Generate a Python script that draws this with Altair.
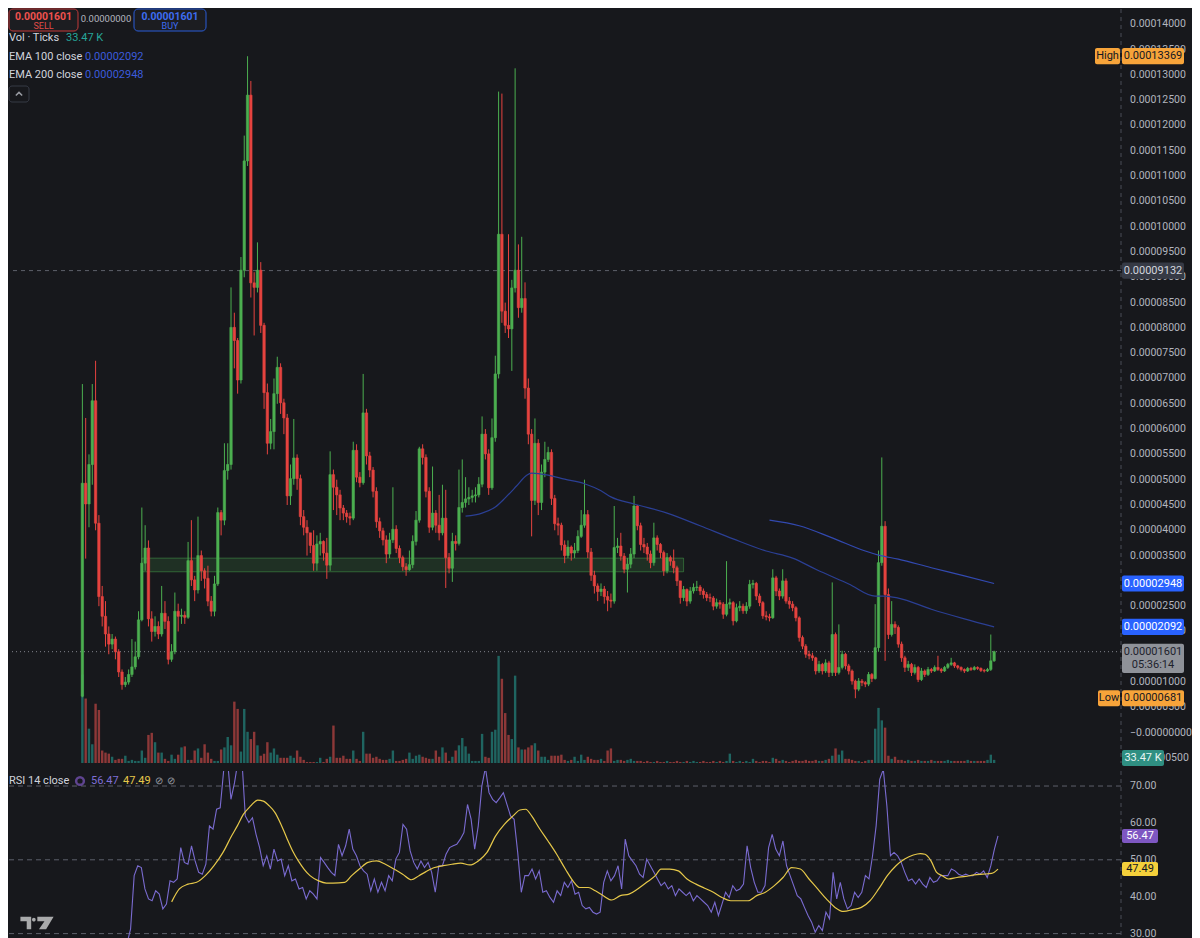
import altair as alt
import pandas as pd

FONT = "Roboto"
BG = "#17181c"
UP, DOWN = "#4caf50", "#e5433f"
VUP, VDOWN = "#26a69a", "#ef5350"

# ---------------- data (prices in units of 1e-5) ----------------
first_open = 0.72
close = [
    4.93, 4.52, 5.30, 6.56, 4.14, 2.69, 2.30, 1.95, 1.75, 1.85,
    1.60, 1.20, 0.95, 1.00, 1.15, 1.30, 1.50, 2.23, 3.35, 3.65,
    2.25, 2.00, 2.10, 1.95, 2.36, 2.20, 1.45, 1.60, 2.40, 2.30,
    2.32, 2.28, 3.40, 3.02, 2.82, 3.50, 3.20, 3.05, 2.60, 2.40,
    2.94, 4.35, 4.20, 5.18, 5.30, 8.01, 7.75, 6.97, 9.14, 11.30,
    12.60, 8.89, 8.80, 9.14, 8.05, 6.72, 5.72, 5.95, 6.70, 7.22,
    6.52, 6.22, 4.68, 5.02, 5.43, 5.02, 4.27, 4.06, 3.95, 3.70,
    3.35, 3.73, 3.78, 3.55, 3.31, 5.10, 4.85, 4.70, 4.44,
    4.34, 4.27, 4.24, 5.58, 5.05, 4.94, 6.32, 5.47, 5.19, 4.77,
    4.17, 3.99, 3.81, 3.53, 3.81, 4.02, 3.64, 3.46, 3.28, 3.22,
    3.32, 3.78, 4.20, 5.61, 5.44, 4.77, 4.06, 4.34, 4.10, 3.95,
    4.24, 3.46, 3.25, 3.78, 3.74, 4.45, 4.55, 4.62, 4.65, 4.68,
    4.70, 4.91, 5.90, 5.51, 4.84, 5.83, 7.09, 9.85, 8.33, 8.05,
    7.98, 8.79, 9.14, 8.40, 8.58, 6.81, 5.90, 4.59, 5.72, 4.55,
    5.15, 5.40, 5.54, 4.63, 4.13, 4.10, 3.71, 3.50, 3.67, 3.55,
    3.60, 3.88, 4.10, 4.31, 3.57, 3.11, 2.90, 2.79, 2.84, 2.69,
    2.62,
    2.60, 3.66, 3.69, 3.49, 3.23, 3.33, 3.53, 4.48, 4.09, 3.72,
    3.67, 3.53, 3.36, 3.85, 3.72, 3.56, 3.20, 3.46, 3.39, 3.26,
    3.00, 2.67, 2.83, 2.60, 2.80, 2.87, 2.88, 2.80, 2.73, 2.67,
    2.66, 2.50, 2.57, 2.54, 2.34, 2.54, 2.57, 2.21, 2.47, 2.50,
    2.41, 2.50, 2.93, 2.95, 2.70, 2.57, 2.31, 2.29, 2.27, 3.06,
    2.80, 2.70, 3.00, 2.60, 2.54, 2.47, 2.27, 1.88, 1.71, 1.55,
    1.52, 1.48, 1.22, 1.35, 1.22, 1.38, 1.19, 1.94, 1.19, 1.29,
    1.55, 1.32, 1.22, 1.02, 0.86, 1.02, 0.99, 0.96, 1.15, 1.07,
    1.68, 3.36, 4.08, 2.73, 1.94, 2.14, 2.08, 1.75, 1.48, 1.29,
    1.35, 1.19, 1.29, 1.05, 1.22, 1.15, 1.25, 1.22, 1.29, 1.25,
    1.22, 1.29, 1.35, 1.38, 1.32, 1.29, 1.25, 1.22, 1.27, 1.25,
    1.29, 1.27, 1.23, 1.22, 1.25, 1.42, 1.601,
]
high = [
    6.89, 6.22, 5.50, 6.89, 7.35, 4.30, 2.90, 2.60, 2.10, 1.95,
    1.90, 1.65, 1.25, 1.10, 1.25, 1.85, 1.80, 2.40, 4.45, 4.10,
    3.80, 2.40, 2.30, 2.20, 2.90, 2.60, 2.30, 1.75, 2.77, 2.55,
    2.45, 2.40, 3.77, 4.20, 3.10, 4.27, 3.60, 3.25, 3.30, 2.70,
    3.10, 4.45, 4.40, 5.72, 5.72, 8.80, 8.30, 7.80, 9.40, 11.80,
    13.369, 12.88, 9.10, 9.69, 9.30, 8.10, 6.90, 6.20, 7.00, 7.43,
    7.30, 6.60, 6.30, 5.30, 6.20, 5.50, 5.10, 4.40, 4.20, 3.90,
    4.00, 3.90, 3.95, 3.80, 3.85, 5.56, 5.20, 5.00, 4.80,
    4.50, 4.40, 4.35, 5.75, 5.70, 5.15, 7.09, 6.40, 5.55, 5.25,
    4.85, 4.25, 4.05, 3.90, 3.95, 4.85, 4.10, 3.70, 3.50, 3.35,
    3.60, 3.90, 4.38, 5.65, 5.70, 5.50, 4.85, 5.26, 4.40, 4.70,
    4.90, 4.80, 3.55, 3.95, 3.90, 5.20, 5.40, 5.05, 4.85, 4.80,
    4.85, 5.05, 6.25, 6.00, 5.60, 6.21, 7.45, 12.67, 12.63, 8.50,
    9.85, 8.95, 13.13, 9.65, 9.80, 8.90, 7.00, 6.00, 6.21, 5.80,
    5.30, 5.75, 5.65, 5.60, 4.70, 4.25, 4.15, 3.80, 3.80, 3.70,
    3.75, 4.00, 4.40, 5.00, 4.40, 3.65, 3.20, 2.95, 2.95, 2.90,
    2.80,
    2.75, 4.48, 3.85, 3.95, 3.55, 3.45, 3.65, 4.68, 4.50, 4.15,
    3.85, 3.75, 3.60, 4.15, 3.90, 3.75, 3.60, 3.55, 3.50, 3.62,
    3.30, 2.95, 2.90, 2.85, 2.88, 2.95, 3.00, 2.92, 2.85, 2.78,
    2.75, 2.70, 2.65, 2.62, 2.58, 3.39, 2.65, 2.60, 2.55, 2.60,
    2.55, 2.58, 3.02, 3.02, 2.98, 2.75, 2.60, 2.40, 2.35, 3.23,
    3.10, 2.85, 3.23, 3.05, 2.68, 2.60, 2.50, 2.30, 1.92, 1.75,
    1.62, 1.58, 1.50, 1.42, 1.38, 1.45, 1.42, 2.97, 1.98, 2.14,
    1.62, 1.58, 1.36, 1.25, 1.05, 1.08, 1.06, 1.02, 1.20, 1.18,
    2.54, 3.60, 5.44, 4.18, 2.85, 2.60, 2.20, 2.12, 1.80, 1.52,
    1.42, 1.38, 1.35, 1.32, 1.28, 1.25, 1.30, 1.28, 1.33, 1.52,
    1.28, 1.32, 1.38, 1.48, 1.40, 1.34, 1.31, 1.27, 1.30, 1.30,
    1.32, 1.31, 1.29, 1.26, 1.28, 1.94, 1.62,
]
low = [
    0.70, 3.44, 4.06, 4.90, 4.00, 2.50, 2.10, 1.70, 1.55, 1.65,
    1.45, 1.10, 0.85, 0.90, 0.95, 1.10, 1.25, 1.45, 2.20, 3.20,
    2.10, 1.80, 1.90, 1.85, 1.90, 2.05, 1.35, 1.40, 1.55, 2.00,
    2.15, 2.15, 2.25, 2.90, 2.60, 2.75, 3.00, 2.85, 2.50, 2.30,
    2.30, 2.90, 3.90, 4.10, 5.00, 5.20, 7.20, 6.70, 6.90, 9.00,
    11.20, 8.60, 7.85, 8.70, 7.90, 6.40, 5.50, 5.60, 5.60, 6.50,
    6.30, 5.90, 4.50, 4.50, 4.90, 4.80, 4.10, 3.90, 3.50, 3.55,
    3.20, 3.20, 3.50, 3.40, 3.04, 3.20, 4.40, 4.30, 4.20,
    4.20, 4.15, 4.10, 4.20, 4.95, 4.85, 4.90, 5.30, 5.05, 4.65,
    4.05, 3.85, 3.70, 3.35, 3.45, 3.75, 3.55, 3.35, 3.20, 3.10,
    3.20, 3.25, 3.70, 4.15, 5.30, 4.65, 3.95, 4.00, 3.95, 3.80,
    3.90, 2.86, 3.15, 2.98, 3.60, 3.70, 4.35, 4.45, 4.50, 4.55,
    4.55, 4.65, 4.85, 5.40, 4.70, 4.80, 5.75, 7.00, 8.10, 7.90,
    7.80, 7.15, 8.70, 8.20, 8.30, 6.60, 5.70, 3.88, 4.50, 4.30,
    4.40, 5.05, 5.35, 4.50, 4.00, 3.90, 3.60, 3.35, 3.45, 3.40,
    3.45, 3.55, 3.85, 4.05, 3.45, 3.00, 2.75, 2.60, 2.70, 2.55,
    2.40,
    2.47, 2.55, 3.55, 3.40, 3.15, 2.77, 3.25, 3.45, 4.00, 3.60,
    3.55, 3.40, 3.25, 3.30, 3.60, 3.45, 3.10, 3.15, 3.30, 3.15,
    2.90, 2.55, 2.60, 2.50, 2.55, 2.75, 2.80, 2.72, 2.65, 2.60,
    2.58, 2.42, 2.45, 2.45, 2.25, 2.30, 2.45, 2.12, 2.18, 2.40,
    2.35, 2.35, 2.45, 2.85, 2.62, 2.50, 2.25, 2.22, 2.20, 2.25,
    2.70, 2.62, 2.65, 2.55, 2.45, 2.40, 2.20, 1.80, 1.65, 1.48,
    1.45, 1.42, 1.15, 1.18, 1.15, 1.18, 1.10, 1.12, 1.12, 1.15,
    1.25, 1.25, 1.15, 0.95, 0.681, 0.82, 0.92, 0.90, 0.92, 1.00,
    1.05, 1.60, 3.30, 1.42, 1.85, 1.90, 1.95, 1.68, 1.40, 1.20,
    1.22, 1.12, 1.15, 1.00, 1.02, 1.10, 1.12, 1.18, 1.20, 1.22,
    1.18, 1.20, 1.26, 1.32, 1.28, 1.25, 1.21, 1.18, 1.20, 1.22,
    1.23, 1.24, 1.20, 1.19, 1.20, 1.22, 1.40,
]
# volume (relative bar heights)
volume = [
    85, 62, 33, 18, 57, 51, 12, 10, 9, 6,
    3, 4, 4, 7, 2, 3, 2, 2, 12, 5,
    27, 29, 20, 10, 10, 4, 2, 8, 4, 8,
    15, 16, 3, 3, 12, 14, 5, 18, 10, 4,
    2, 2, 13, 15, 25, 17, 59, 52, 11, 52,
    30, 23, 30, 17, 7, 9, 20, 10, 14, 8,
    5, 5, 5, 7, 5, 12, 6, 3, 1, 1,
    1, 1, 5, 1, 4, 6, 36, 5, 5, 7,
    4, 4, 12, 4, 2, 30, 9, 9, 5, 6,
    4, 3, 3, 4, 12, 2, 2, 3, 4, 10,
    4, 7, 8, 6, 5, 4, 4, 12, 6, 15,
    10, 2, 6, 12, 17, 24, 16, 9,
    2, 2, 2, 28, 6, 5, 30, 32, 103, 81,
    48, 27, 23, 84, 15, 13, 13, 15, 17, 19,
    12, 6, 6, 3, 7, 7, 7, 8, 3, 2,
    3, 6, 2, 8, 3, 6, 4, 3, 3, 4,
    2, 12, 14, 2, 3, 3, 2, 3, 4, 2,
    2, 2, 1, 2, 1, 1, 2, 1, 1, 2,
    1, 1, 2, 1, 1, 2, 1, 2, 1, 1,
    2, 1, 1, 2, 1, 2, 1, 2,
    9,
    2, 1, 2, 1, 2, 1,
    4,
    2, 1, 2, 2, 1,
    5, 4,
    2, 3, 2, 1, 2, 3, 2, 2, 3, 2, 2, 3, 2, 2, 3,
    4, 7, 14, 8, 12, 4, 4, 3,
    2, 2, 1, 2, 3,
    3, 33, 53, 41, 34, 7, 4, 6, 3,
    3, 2, 3, 2, 2, 3, 2, 2, 2, 3, 2, 2, 2, 2, 3, 2, 2, 2, 2, 2, 3, 2, 2, 2, 2, 2, 3,
    8, 3,
]
ema100_bar = [116, 121, 125, 128, 131.5, 134.5, 136, 141, 146, 152, 157, 160, 167, 177,
              187, 197, 207, 215, 222, 232, 240, 243, 247, 257, 267, 276]
ema100 = [4.28, 4.34, 4.46, 4.64, 4.88, 5.09, 5.13, 5.09, 5.01, 4.92, 4.78, 4.66, 4.52, 4.34,
          4.09, 3.83, 3.59, 3.45, 3.23, 2.94, 2.70, 2.70, 2.66, 2.44, 2.25, 2.092]
ema200_bar = [208, 217, 227, 237, 241, 247, 257, 267, 276]
ema200 = [4.20, 4.09, 3.85, 3.59, 3.51, 3.43, 3.26, 3.10, 2.948]

rsi = [
    27.3, 31.3, 45.7, 48.4, 47.9, 42.1, 39.4, 38.9, 41.6, 40.7, 36.7, 38.0, 44.3, 43.9, 44.8,
    53.3, 49.3, 48.8, 53.8, 49.7, 46.6, 46.1, 48.8, 59.2, 58.3, 63.7, 64.1, 74.5, 77.5, 66.4,
    70.9, 77.0, 78.0, 61.9, 60.1, 61.4, 56.9, 53.3, 48.4, 51.1, 47.5, 52.9, 49.7, 50.2, 45.7,
    48.4, 44.3, 44.8, 42.1, 42.5, 39.4, 41.6, 40.7, 39.4, 50.6, 49.3, 47.9, 46.6, 45.7, 54.2,
    51.1, 53.8, 58.3, 52.9, 51.1, 48.4, 47.0, 46.1, 41.6, 44.8, 41.2, 43.9, 41.6, 45.7, 44.3,
    50.2, 52.0, 59.6, 58.3, 52.4, 49.3, 47.5, 49.7, 47.9, 49.3, 46.6, 41.2, 48.4, 48.4, 51.5,
    53.3, 53.8, 54.2, 55.6, 57.4, 65.0, 61.0, 52.9, 59.2, 70.0, 75.0, 68.2, 66.4, 65.5, 66.8,
    68.2, 65.0, 61.9, 61.0, 52.0, 41.2, 45.7, 45.7, 47.5, 44.8, 47.0, 41.2, 41.6, 39.8, 38.5,
    41.6, 40.3, 43.9, 42.5, 44.3, 40.7, 41.2, 37.6, 36.7, 37.1, 35.8, 35.3, 35.8, 43.9, 47.0,
    44.3, 45.7, 48.4, 42.1, 55.6, 51.1, 49.7, 48.4, 46.1, 45.2, 50.2, 48.4, 46.6, 44.8, 43.0,
    43.9, 42.1, 43.0, 40.3, 42.1, 41.2, 40.3, 41.2, 38.9, 40.3, 39.4, 38.5, 37.6, 35.8, 38.5,
    34.9, 38.0, 41.2, 39.8, 43.0, 41.6, 42.1, 43.4, 53.8, 47.9, 43.9, 41.2, 41.2, 43.0, 53.3,
    56.9, 52.9, 51.1, 55.1, 48.4, 45.7, 43.0, 40.3, 39.4, 37.1, 34.9, 33.1, 30.4, 32.2, 30.8,
    35.8, 34.0, 46.6, 39.4, 43.9, 39.4, 36.7, 37.6, 41.2, 39.8, 41.2, 45.7, 44.8, 51.1, 59.2,
    71.8, 74.5, 64.6, 51.1, 52.0, 51.1, 49.3, 46.6, 44.3, 44.8, 43.4, 44.8, 43.4, 42.5, 45.2,
    43.9, 44.3, 45.7, 45.7, 45.7, 47.5, 47.0, 46.1, 45.7, 46.1, 45.7, 45.7, 46.6, 46.1, 47.0,
    45.2, 48.4, 52.9, 56.47,
]
rsi_first_bar, rsi_last_bar = 14.7, 276
ma_bar = [28.1, 30.4, 33.0, 35.6, 38.2, 40.8, 43.5, 46.1, 47.8, 49.6, 51.8, 53.9, 55.6, 57.4,
          59.1, 60.9, 62.6, 64.4, 66.1, 67.8, 69.6, 72.2, 74.5, 76.5, 80.0, 82.1, 84.4, 87.0,
          89.6, 92.2, 94.8, 97.4, 100.0, 102.3, 104.4, 107.0, 109.6, 112.2, 114.8, 117.5,
          120.1, 122.7, 125.3, 127.9, 130.5, 132.6, 134.3, 136.1, 138.3, 141.0, 143.6, 146.2,
          148.8, 150.5, 153.1, 155.2, 157.5, 160.1, 162.7, 165.3, 167.9, 170.6, 173.2, 174.9,
          177.5, 180.1, 182.7, 185.4, 188.0, 190.6, 193.2, 195.8, 198.4, 201.0, 203.6, 206.2,
          208.9, 211.5, 214.1, 216.7, 219.3, 221.9, 224.5, 227.1, 229.7, 232.4, 235.0, 237.6,
          240.2, 242.8, 245.4, 248.0, 250.6, 252.7, 254.1, 255.9, 257.6, 259.3, 261.1, 263.7,
          266.3, 268.9, 271.5, 274.1, 276.0]
ma_val = [38.6, 42.1, 43.4, 43.9, 45.7, 48.4, 52.0, 56.5, 59.2, 62.3, 64.6, 66.2, 65.9, 64.6,
          62.8, 59.6, 56.0, 52.4, 49.7, 47.5, 45.7, 44.3, 43.7, 43.7, 43.9, 45.7, 47.5, 49.3,
          49.7, 48.8, 47.5, 46.1, 44.6, 45.7, 46.8, 47.9, 48.4, 48.8, 49.1, 48.6, 49.7, 52.0,
          56.5, 59.6, 61.9, 63.5, 63.7, 61.9, 58.7, 55.1, 51.5, 47.5, 43.9, 42.5, 42.5, 41.6,
          40.3, 39.1, 40.3, 40.7, 42.1, 43.9, 45.7, 47.5, 47.5, 47.0, 44.8, 43.4, 42.3, 41.2,
          39.8, 38.9, 38.9, 38.9, 40.3, 41.2, 43.0, 45.2, 47.9, 47.5, 44.8, 42.1, 39.4, 37.1,
          36.0, 36.5, 37.1, 38.9, 42.1, 45.7, 48.4, 50.2, 51.3, 51.7, 51.5, 49.7, 46.6, 45.7,
          44.8, 45.2, 45.5, 45.9, 46.1, 46.3, 47.49]

box_bars = [18, 182]
box_prices = [3.18, 3.45]
crosshair_price = 9.132
last_price = 1.601
high_price, low_price = 13.369, 0.681
# price-axis ticks (every 0.000005); 0.00003000 and 0.00001500 sit fully under price tags
price_ticks = [k / 2 for k in range(-1, 29) if k not in (3, 6)]
price_tick_labels = ["\u22120.00000000" if t == 0 else "%.8f" % (t / 100000) for t in price_ticks]
rsi_ticks = [30, 40, 50, 60, 70]
rsi_tick_labels = ["30.00", "40.00", "50.00", "60.00", "70.00"]
rsi_levels = [70, 50, 30]

# ---------------- frames ----------------
n = min(len(close), len(high), len(low), len(volume))
opens = [first_open] + close[:-1]
df = pd.DataFrame({
    "bar": list(range(n)), "open": opens[:n], "close": close[:n],
    "high": high[:n], "low": low[:n], "vol": volume[:n],
})
df["dir"] = ["up" if c >= o else "down" for o, c in zip(df["open"], df["close"])]
df["vdir"] = df["dir"]

nr = len(rsi)
step = (rsi_last_bar - rsi_first_bar) / (nr - 1)
df_rsi = pd.DataFrame({"bar": [rsi_first_bar + k * step for k in range(nr)], "rsi": rsi})
df_ma = pd.DataFrame(list(zip(ma_bar, ma_val)), columns=["bar", "ma"])
df_e100 = pd.DataFrame(list(zip(ema100_bar, ema100)), columns=["bar", "v"])
df_e200 = pd.DataFrame(list(zip(ema200_bar, ema200)), columns=["bar", "v"])
df_box = pd.DataFrame({"b1": [box_bars[0]], "b2": [box_bars[1]], "p1": [box_prices[0]], "p2": [box_prices[1]]})
df_pt = pd.DataFrame({"p": price_ticks, "label": price_tick_labels})
df_rt = pd.DataFrame({"r": rsi_ticks, "label": rsi_tick_labels})
one = pd.DataFrame({"a": [0]})

# ---------------- layout ----------------
W = 1112
H1, H2 = 754, 173
sp = 920 / (n - 1)
x0 = -69 / sp
XS = alt.Scale(domain=[x0, x0 + W / sp], nice=False, zero=False)
PS = alt.Scale(domain=[-0.599, 14.302], nice=False, zero=False)
RS = alt.Scale(domain=[27.18, 74.07], nice=False, zero=False)
LBL = "#b2b5be"

X = alt.X("bar:Q", scale=XS, axis=None)
dir_scale = alt.Scale(domain=["up", "down"], range=[UP, DOWN])
vdir_scale = alt.Scale(domain=["up", "down"], range=[VUP, VDOWN])


def T(x, y, s, color, size=11, weight="normal", align="left"):
    return alt.Chart(one).mark_text(text=s, color=color, fontSize=size, fontWeight=weight,
                                    align=align, baseline="middle", font=FONT).encode(
        x=alt.value(x), y=alt.value(y))


def R(x1, x2, y1, y2, fill, stroke=None, radius=0, sw=1.0):
    kw = dict(fill=fill, cornerRadius=radius)
    if stroke:
        kw.update(stroke=stroke, strokeWidth=sw)
    return alt.Chart(one).mark_rect(**kw).encode(
        x=alt.value(x1), x2=alt.value(x2), y=alt.value(y1), y2=alt.value(y2))


def make_tags(scale):
    def PR(x1, x2, p1, p2, fill):
        d = pd.DataFrame({"p1": [p1], "p2": [p2]})
        return alt.Chart(d).mark_rect(fill=fill, cornerRadius=2).encode(
            x=alt.value(x1), x2=alt.value(x2),
            y=alt.Y("p1:Q", scale=scale, axis=None), y2="p2:Q")

    def PTX(x, p, s, color, size=11):
        d = pd.DataFrame({"p": [p]})
        return alt.Chart(d).mark_text(text=s, color=color, fontSize=size, align="center",
                                      baseline="middle", font=FONT).encode(
            x=alt.value(x), y=alt.Y("p:Q", scale=scale, axis=None))
    return PR, PTX


def hrule(p, scale, color, dash):
    d = pd.DataFrame({"p": [p]})
    return alt.Chart(d).mark_rule(color=color, strokeDash=dash, strokeWidth=1).encode(
        y=alt.Y("p:Q", scale=scale, axis=None))


# ---------------- main pane ----------------
vol_layer = alt.Chart(df).mark_bar(width=2.4, opacity=0.55).encode(
    x=X, y=alt.Y("vol:Q", scale=alt.Scale(domain=[0, 725], nice=False), axis=None),
    color=alt.Color("vdir:N", scale=vdir_scale, legend=None))

box = alt.Chart(df_box).mark_rect(fill=UP, fillOpacity=0.16, stroke=UP, strokeOpacity=0.45,
                                  strokeWidth=1).encode(
    x=alt.X("b1:Q", scale=XS, axis=None), x2="b2:Q",
    y=alt.Y("p1:Q", scale=PS, axis=None), y2="p2:Q")

price_labels = alt.Chart(df_pt).mark_text(align="left", baseline="middle", font=FONT,
                                          fontSize=10.5, color=LBL).encode(
    x=alt.value(W + 9), y=alt.Y("p:Q", scale=PS, axis=None), text="label:N")

cross = hrule(crosshair_price, PS, "#5d606b", [4, 4])
lastline = hrule(last_price, PS, "#80838d", [1, 3])
vline = alt.Chart(one).mark_rule(color="#4a4d56", strokeDash=[4, 4], strokeWidth=1).encode(
    x=alt.value(W), y=alt.value(0), y2=alt.value(H1))

wicks = alt.Chart(df).mark_rule(strokeWidth=1).encode(
    x=X, y=alt.Y("low:Q", scale=PS, axis=None), y2="high:Q",
    color=alt.Color("dir:N", scale=dir_scale, legend=None))
bodies = alt.Chart(df).mark_bar(width=2.4, strokeWidth=0.6).encode(
    x=X, y=alt.Y("open:Q", scale=PS, axis=None), y2="close:Q",
    color=alt.Color("dir:N", scale=dir_scale, legend=None),
    stroke=alt.Stroke("dir:N", scale=dir_scale, legend=None))

e100 = alt.Chart(df_e100).mark_line(color="#2b3f94", strokeWidth=1.2, interpolate="monotone").encode(
    x=X, y=alt.Y("v:Q", scale=PS, axis=None))
e200 = alt.Chart(df_e200).mark_line(color="#3249b0", strokeWidth=1.2, interpolate="monotone").encode(
    x=X, y=alt.Y("v:Q", scale=PS, axis=None))

DARK = "#131722"
ORANGE = "#f7a43a"
BLUE = "#2962ff"
H = 0.16
PR, PTX = make_tags(PS)
tags = [
    PR(W - 26, W - 1, high_price + H, high_price - H, ORANGE), PTX(W - 13.5, high_price, "High", DARK),
    PR(W + 1, W + 63, high_price + H, high_price - H, ORANGE), PTX(W + 32, high_price, "0.00013369", DARK),
    PR(W + 1, W + 63, crosshair_price + H, crosshair_price - H, "#363a45"),
    PTX(W + 32, crosshair_price, "0.00009132", "#d1d4dc"),
    PR(W + 1, W + 63, 2.948 + H, 2.948 - H, BLUE), PTX(W + 32, 2.948, "0.00002948", "#ffffff"),
    PR(W + 1, W + 63, 2.092 + H, 2.092 - H, BLUE), PTX(W + 32, 2.092, "0.00002092", "#ffffff"),
    PR(W + 1, W + 63, 1.76, 1.18, "#8f9299"),
    PTX(W + 32, last_price, "0.00001601", "#1e222d"), PTX(W + 32, 1.335, "05:36:14", "#1e222d"),
    PR(W - 23, W - 1, low_price + H, low_price - H, ORANGE), PTX(W - 12, low_price, "Low", DARK),
    PR(W + 1, W + 63, low_price + H, low_price - H, ORANGE), PTX(W + 32, low_price, "0.00000681", DARK),
    PR(W + 1, W + 43, -0.5 + H, -0.5 - H, "#2f8f82"), PTX(W + 22, -0.5, "33.47 K", "#e8f5f3"),
]

chev = alt.Chart(one).mark_point(shape="M-1,0.5L0,-0.5L1,0.5", filled=False, stroke="#d1d4dc",
                                 strokeWidth=1.5, size=40).encode(x=alt.value(10), y=alt.value(85))
overlay = [
    R(0, 69, 0, 22, "#1c1d21", "#c23b3b", 4),
    T(34.5, 7.5, "0.00001601", "#f0514e", 10.5, "bold", "center"),
    T(34.5, 16.5, "SELL", "#e04b48", 9, "normal", "center"),
    T(97, 10, "0.00000000", "#b2b5be", 9.5, "normal", "center"),
    R(125, 197, 0, 22, "#1c1d21", "#2a5cd8", 4),
    T(161, 7.5, "0.00001601", "#3d6cf0", 10.5, "bold", "center"),
    T(161, 16.5, "BUY", "#3d6cf0", 9, "normal", "center"),
    T(0, 29, "Vol · Ticks", "#d1d4dc"),
    T(57, 29, "33.47 K", "#26a69a"),
    T(0, 48, "EMA 100 close", "#d1d4dc"),
    T(76, 48, "0.00002092", "#3b5bdb"),
    T(0, 66, "EMA 200 close", "#d1d4dc"),
    T(76, 66, "0.00002948", "#3b5bdb"),
    R(0, 20, 77, 93, "#17181c", "#363a45", 3),
    chev,
]

price_layer = alt.layer(box, price_labels, cross, lastline, vline, wicks, bodies, e100, e200,
                        *tags, *overlay)
main = alt.layer(vol_layer, price_layer).resolve_scale(y="independent", color="independent",
                                                      stroke="independent").properties(
    width=W, height=H1)

# ---------------- RSI pane ----------------
levels = alt.Chart(pd.DataFrame({"lvl": rsi_levels})).mark_rule(
    color="#5d606b", strokeDash=[5, 4], strokeWidth=1).encode(
    y=alt.Y("lvl:Q", scale=RS, axis=None))
rsi_labels = alt.Chart(df_rt).mark_text(align="left", baseline="middle", font=FONT,
                                        fontSize=10.5, color=LBL).encode(
    x=alt.value(W + 9), y=alt.Y("r:Q", scale=RS, axis=None), text="label:N")
rsi_line = alt.Chart(df_rsi).mark_line(color="#7a6bd0", strokeWidth=1.1, clip=True).encode(
    x=X, y=alt.Y("rsi:Q", scale=RS, axis=None))
ma_line = alt.Chart(df_ma).mark_line(color="#e6c84a", strokeWidth=1.2, clip=True,
                                     interpolate="monotone").encode(
    x=X, y=alt.Y("ma:Q", scale=RS, axis=None))
vline2 = alt.Chart(one).mark_rule(color="#4a4d56", strokeDash=[4, 4], strokeWidth=1).encode(
    x=alt.value(W), y=alt.value(0), y2=alt.value(H2))
icon = alt.Chart(one).mark_point(shape="circle", filled=False, stroke="#7e57c2", strokeWidth=2.5,
                                 size=60).encode(x=alt.value(71), y=alt.value(10))
logo = alt.Chart(one).mark_point(
    shape="M-1,-0.375H-0.35V0.375H-0.62V-0.1H-1Z"
          "M-0.08,-0.2A0.11,0.11 0 1,1 -0.3,-0.2A0.11,0.11 0 1,1 -0.08,-0.2Z"
          "M0.02,-0.375H1L0.55,0.375H0.12L0.45,-0.1H0.02Z",
    filled=True, fill="#e8e8e8", strokeWidth=0, size=1100).encode(x=alt.value(28), y=alt.value(152))
RPR, RPTX = make_tags(RS)
rsi_tags = [
    RPR(W + 1, W + 37, 56.47 + 1.9, 56.47 - 1.9, "#7e57c2"), RPTX(W + 19, 56.47, "56.47", "#ffffff"),
    RPR(W + 1, W + 37, 47.49 + 1.9, 47.49 - 1.9, "#f5d03b"), RPTX(W + 19, 47.49, "47.49", DARK),
]
rsi_text = [
    T(0, 10, "RSI 14 close", "#d1d4dc"),
    icon,
    T(82, 10, "56.47", "#7e6fd6"),
    T(114, 10, "47.49", "#e6c84a"),
    T(146, 10, "\u2298", "#9598a1", 10),
    T(158, 10, "\u2298", "#9598a1", 10),
    logo,
]
rsi_chart = alt.layer(levels, rsi_labels, vline2, rsi_line, ma_line, *rsi_tags, *rsi_text).properties(
    width=W, height=H2)

chart = alt.vconcat(main, rsi_chart, spacing=3).properties(padding=0).configure(
    background=BG, font=FONT).configure_view(strokeWidth=0)

chart.save("out.html", embed_options={"renderer": "svg", "actions": False})
